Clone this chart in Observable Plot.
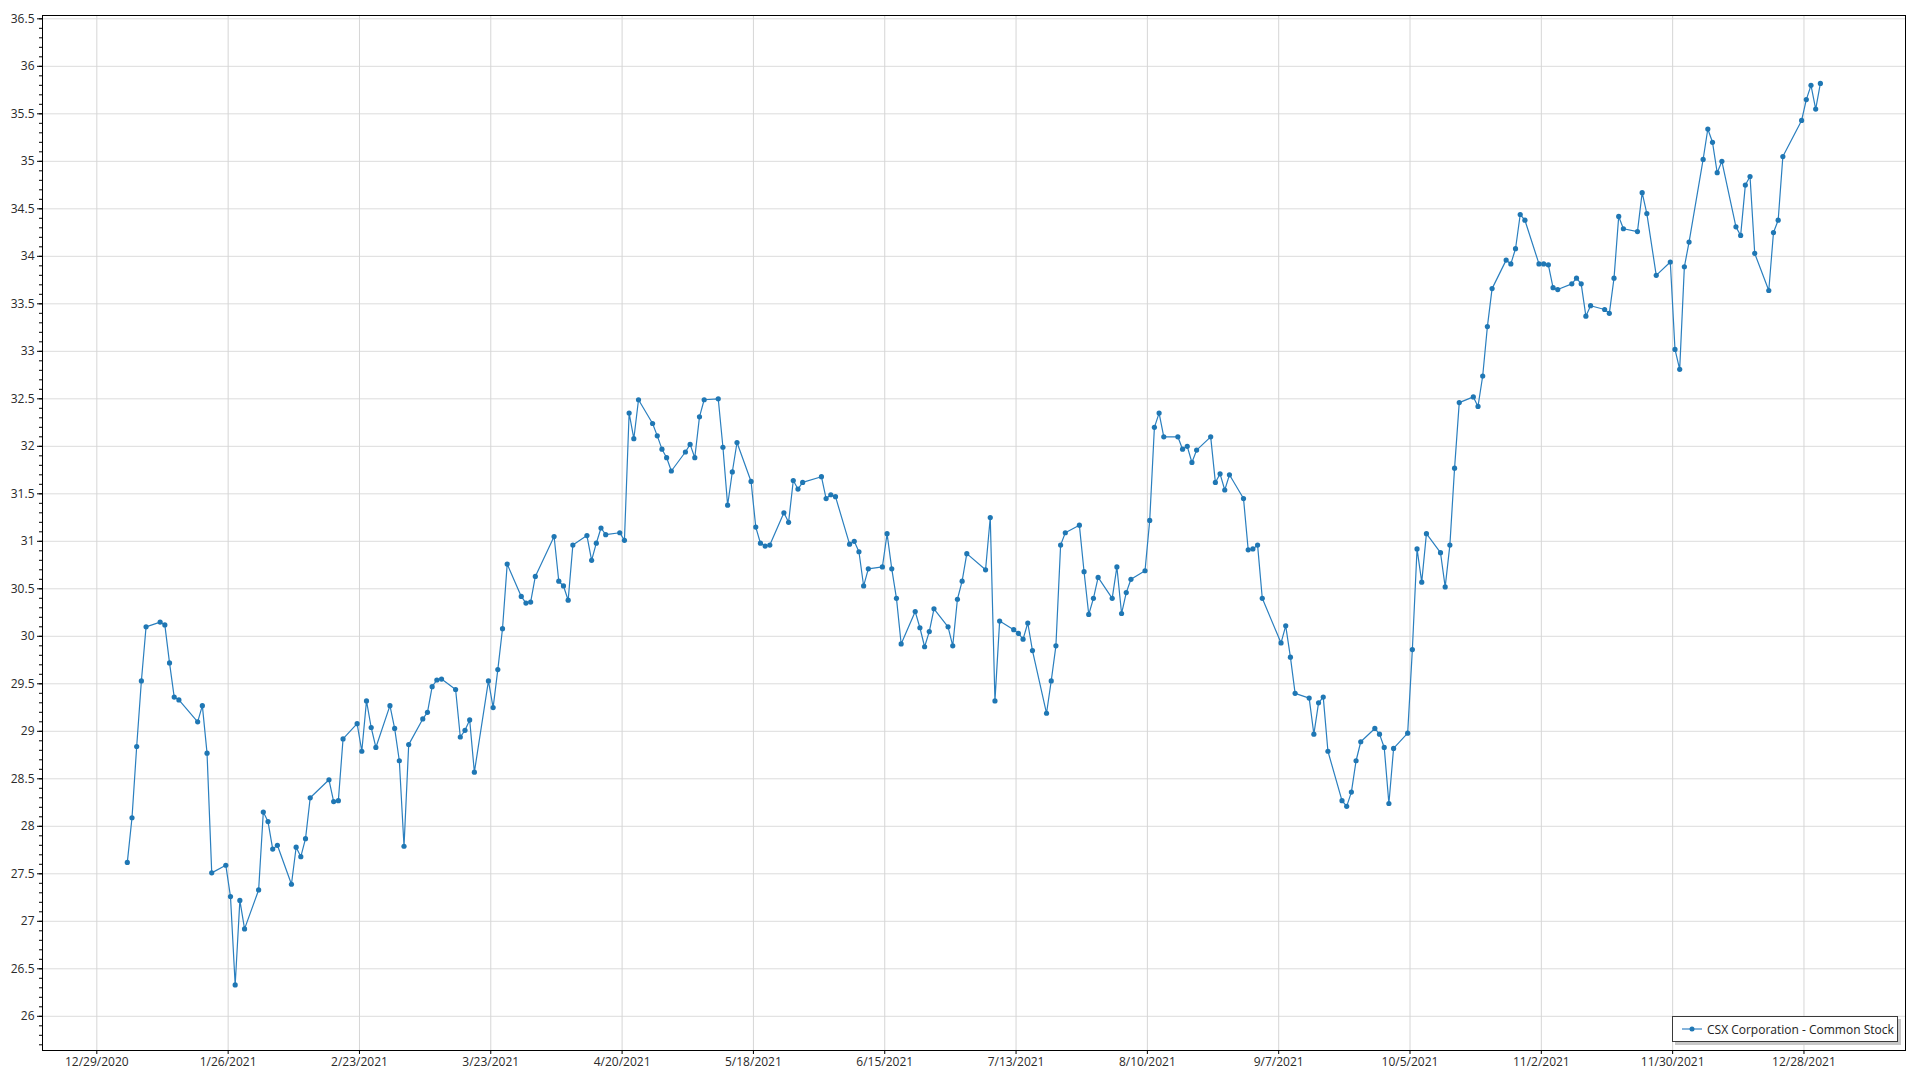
<!DOCTYPE html>
<html>
<head>
<meta charset="utf-8">
<script src="https://cdn.jsdelivr.net/npm/d3@7"></script>
<script src="https://cdn.jsdelivr.net/npm/@observablehq/plot@0.6"></script>
<style>
html, body { margin: 0; padding: 0; background: #fff; }
#wrap { position: relative; width: 1920px; height: 1080px; overflow: hidden; }
#legend {
  position: absolute; left: 1672px; top: 1016px; width: 224px; height: 24px;
  border: 1px solid #3a3a3a; background: #fff; box-shadow: 3px 3px 0 #c8c8c8;
  font: 12px "Open Sans", sans-serif; color: #222; display: flex; align-items: center;
}
#legend svg { margin-left: 9px; margin-right: 5px; }
</style>
</head>
<body>
<div id="wrap"></div>
<script>
const seriesName = "CSX Corporation - Common Stock";

// [day of month, close] for each month of 2021
const close_jan = [[4,27.62],[5,28.09],[6,28.84],[7,29.53],[8,30.10],[11,30.15],[12,30.12],[13,29.72],[14,29.36],[15,29.33],[19,29.10],[20,29.27],[21,28.77],[22,27.51],[25,27.59],[26,27.26],[27,26.33],[28,27.22],[29,26.92]];
const close_feb = [[1,27.33],[2,28.15],[3,28.05],[4,27.76],[5,27.80],[8,27.39],[9,27.78],[10,27.68],[11,27.87],[12,28.30],[16,28.49],[17,28.26],[18,28.27],[19,28.92],[22,29.08],[23,28.79],[24,29.32],[25,29.04],[26,28.83]];
const close_mar = [[1,29.27],[2,29.03],[3,28.69],[4,27.79],[5,28.86],[8,29.13],[9,29.20],[10,29.47],[11,29.54],[12,29.55],[15,29.44],[16,28.94],[17,29.01],[18,29.12],[19,28.57],[22,29.53],[23,29.25],[24,29.65],[25,30.08],[26,30.76],[29,30.42],[30,30.35],[31,30.36]];
const close_apr = [[1,30.63],[5,31.05],[6,30.58],[7,30.53],[8,30.38],[9,30.96],[12,31.06],[13,30.80],[14,30.98],[15,31.14],[16,31.07],[19,31.09],[20,31.01],[21,32.35],[22,32.08],[23,32.49],[26,32.24],[27,32.11],[28,31.97],[29,31.88],[30,31.74]];
const close_may = [[3,31.94],[4,32.02],[5,31.88],[6,32.31],[7,32.49],[10,32.50],[11,31.99],[12,31.38],[13,31.73],[14,32.04],[17,31.63],[18,31.15],[19,30.98],[20,30.95],[21,30.96],[24,31.30],[25,31.20],[26,31.64],[27,31.55],[28,31.62]];
const close_jun = [[1,31.68],[2,31.45],[3,31.49],[4,31.47],[7,30.97],[8,31.00],[9,30.89],[10,30.53],[11,30.71],[14,30.73],[15,31.08],[16,30.71],[17,30.40],[18,29.92],[21,30.26],[22,30.09],[23,29.89],[24,30.05],[25,30.29],[28,30.10],[29,29.90],[30,30.39]];
const close_jul = [[1,30.58],[2,30.87],[6,30.70],[7,31.25],[8,29.32],[9,30.16],[12,30.07],[13,30.03],[14,29.97],[15,30.14],[16,29.85],[19,29.19],[20,29.53],[21,29.90],[22,30.96],[23,31.09],[26,31.17],[27,30.68],[28,30.23],[29,30.40],[30,30.62]];
const close_aug = [[2,30.40],[3,30.73],[4,30.24],[5,30.46],[6,30.60],[9,30.69],[10,31.22],[11,32.20],[12,32.35],[13,32.10],[16,32.10],[17,31.97],[18,32.00],[19,31.83],[20,31.96],[23,32.10],[24,31.62],[25,31.71],[26,31.54],[27,31.70],[30,31.45],[31,30.91]];
const close_sep = [[1,30.92],[2,30.96],[3,30.40],[7,29.93],[8,30.11],[9,29.78],[10,29.40],[13,29.35],[14,28.97],[15,29.30],[16,29.36],[17,28.79],[20,28.27],[21,28.21],[22,28.36],[23,28.69],[24,28.89],[27,29.03],[28,28.97],[29,28.83],[30,28.24]];
const close_oct = [[1,28.82],[4,28.98],[5,29.86],[6,30.92],[7,30.57],[8,31.08],[11,30.88],[12,30.52],[13,30.96],[14,31.77],[15,32.46],[18,32.52],[19,32.42],[20,32.74],[21,33.26],[22,33.66],[25,33.96],[26,33.92],[27,34.08],[28,34.44],[29,34.38]];
const close_nov = [[1,33.92],[2,33.92],[3,33.91],[4,33.67],[5,33.65],[8,33.71],[9,33.77],[10,33.71],[11,33.37],[12,33.48],[15,33.44],[16,33.40],[17,33.77],[18,34.42],[19,34.29],[22,34.26],[23,34.67],[24,34.45],[26,33.80],[29,33.94],[30,33.02]];
const close_dec = [[1,32.81],[2,33.89],[3,34.15],[6,35.02],[7,35.34],[8,35.20],[9,34.88],[10,35.00],[13,34.31],[14,34.22],[15,34.75],[16,34.84],[17,34.03],[20,33.64],[21,34.25],[22,34.38],[23,35.05],[27,35.43],[28,35.65],[29,35.80],[30,35.55],[31,35.82]];

const xTickLabels = ["12/29/2020","1/26/2021","2/23/2021","3/23/2021","4/20/2021","5/18/2021","6/15/2021","7/13/2021","8/10/2021","9/7/2021","10/5/2021","11/2/2021","11/30/2021","12/28/2021"];
const yTickValues = [26,26.5,27,27.5,28,28.5,29,29.5,30,30.5,31,31.5,32,32.5,33,33.5,34,34.5,35,35.5,36,36.5];

const months = [close_jan, close_feb, close_mar, close_apr, close_may, close_jun, close_jul, close_aug, close_sep, close_oct, close_nov, close_dec];
const data = months.flatMap((arr, m) => arr.map(([d, v]) => ({date: new Date(Date.UTC(2021, m, d, 12)), close: v})));

const parse = d3.utcParse("%m/%d/%Y");
const xTicks = xTickLabels.map(parse);
const fmt = d => `${d.getUTCMonth() + 1}/${d.getUTCDate()}/${d.getUTCFullYear()}`;
const yMinor = d3.range(257, 366).map(i => i / 10);

const chart = Plot.plot({
  width: 1920,
  height: 1080,
  marginLeft: 42,
  marginRight: 15,
  marginTop: 15,
  marginBottom: 30,
  style: {fontFamily: '"Open Sans", sans-serif', fontSize: "12px", color: "#2a2a2a", background: "#fff"},
  x: {type: "utc", domain: [new Date(Date.UTC(2020, 11, 17, 10)), new Date(Date.UTC(2022, 0, 18, 15, 36))]},
  y: {domain: [25.64, 36.535]},
  marks: [
    Plot.gridY(yTickValues, {stroke: "#dcdcdc", strokeOpacity: 1}),
    Plot.gridX(xTicks, {stroke: "#d6d6d6", strokeOpacity: 1}),
    Plot.axisY(yMinor, {tickSize: 3, tickFormat: () => "", stroke: "#000", label: null}),
    Plot.axisY(yTickValues, {tickSize: 5, tickPadding: 3, tickFormat: d => String(d), stroke: "#000", label: null}),
    Plot.axisX(xTicks, {tickSize: 4, tickPadding: 3, tickFormat: fmt, stroke: "#000", label: null}),
    Plot.line(data, {x: "date", y: "close", stroke: "#2a7fbf", strokeWidth: 1.2}),
    Plot.dot(data, {x: "date", y: "close", r: 2.6, fill: "#1f77b4"}),
    Plot.frame({stroke: "#000"})
  ]
});

const wrap = document.getElementById("wrap");
wrap.appendChild(chart);

const legend = document.createElement("div");
legend.id = "legend";
legend.innerHTML = `<svg width="20" height="8"><line x1="0" y1="4" x2="20" y2="4" stroke="#5b9bd0" stroke-width="1.5"/><circle cx="10" cy="4" r="2.5" fill="#1f77b4"/></svg><span></span>`;
legend.querySelector("span").textContent = seriesName;
wrap.appendChild(legend);
</script>
</body>
</html>
